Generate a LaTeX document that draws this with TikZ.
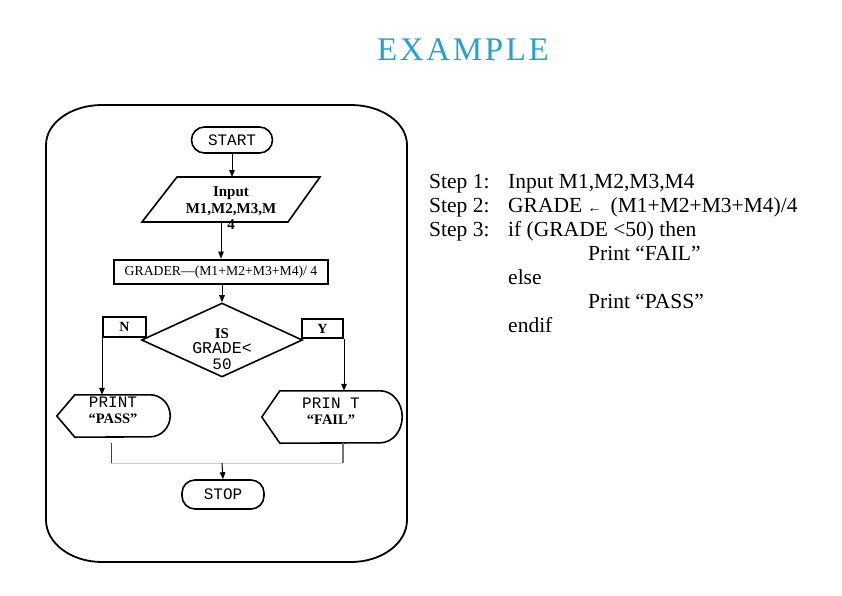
\documentclass[tikz,border=0pt]{standalone}
\usepackage{fontspec}
\setmainfont{Liberation Serif}
\newfontfamily\monof{Liberation Mono}
\newfontfamily\titlef[LetterSpace=8]{Liberation Serif}
\usetikzlibrary{shapes.geometric,arrows.meta}
\definecolor{titleblue}{RGB}{38,160,205}
\begin{document}
\begin{tikzpicture}[x=1pt,y=-1pt,
  shapeline/.style={draw=black, line width=1.6pt},
  arr/.style={line width=1pt, -{Triangle[length=7pt,width=5.5pt]}},
  pill/.style={shapeline, rounded corners=13pt, font=\fontsize{16}{16}\selectfont\monof, inner sep=0pt},
  flagbox/.style={draw=black, line width=2pt, inner sep=0pt, font=\fontsize{14}{14}\selectfont\bfseries},
  plain/.style={inner sep=0pt, align=center}
]
\useasboundingbox (0,0) rectangle (842,595);
% title
\node[font=\fontsize{33}{33}\selectfont\titlef, text=titleblue] (title) at (463,50) {EXAMPLE};
% frame
\draw[line width=1.8pt] (102,105) -- (351,105)
  arc[start angle=90,end angle=0,x radius=56pt,y radius=40pt] -- (407,520)
  arc[start angle=0,end angle=-90,x radius=56pt,y radius=42pt] -- (102,562)
  arc[start angle=-90,end angle=-180,x radius=56pt,y radius=42pt] -- (46,145)
  arc[start angle=180,end angle=90,x radius=56pt,y radius=40pt] -- cycle;
% nodes
\node[pill, minimum width=81pt, minimum height=26pt] (start) at (232,140) {START};
\node[minimum width=178pt, minimum height=45pt, inner sep=0pt, outer sep=0pt] (inp) at (231,199.5) {};
\draw[shapeline] ([xshift=35pt]inp.north west) -- (inp.north east) -- ([xshift=-32pt]inp.south east)
  -- (inp.south west) -- cycle;
\node[plain, font=\fontsize{15}{16.5}\selectfont\bfseries] (inptext) at (231,208.5) {Input\\M1,M2,M3,M\\4};
\node[draw=black, line width=2.8pt, minimum width=214pt, minimum height=24pt, inner sep=0pt,
  font=\fontsize{13.7}{14}\selectfont] (grade) at (221,272) {GRADER—(M1+M2+M3+M4)/ 4};
\node[diamond, shapeline, minimum width=161pt, minimum height=74pt, inner sep=0pt] (dec) at (222,340) {};
\node[plain, font=\fontsize{15}{15.5}\selectfont] (dectext) at (222,349) {{\bfseries IS}\\{\fontsize{16.5}{15.5}\selectfont\monof GRADE<}\\{\fontsize{16}{15.5}\selectfont\monof 50}};
\node[flagbox, minimum width=43pt, minimum height=20pt] (nb) at (124.5,327) {N};
\node[flagbox, minimum width=41pt, minimum height=19pt] (yb) at (322.5,328.5) {Y};
% PASS display
\node[minimum width=113pt, minimum height=42pt, inner sep=0pt] (pass) at (113.5,416) {};
\draw[shapeline] (pass.west) -- ([xshift=18pt]pass.north west) -- ([xshift=-20pt]pass.north east)
  arc[start angle=90,end angle=-90,x radius=20pt,y radius=21pt] -- ([xshift=18pt]pass.south west) -- cycle;
\node[plain, font=\fontsize{14.5}{16}\selectfont] (passtext) at (113,410) {{\fontsize{16}{16}\selectfont\monof PRINT}\\{\bfseries “PASS”}};
% FAIL display
\node[minimum width=140pt, minimum height=52pt, inner sep=0pt] (fail) at (332,417) {};
\draw[shapeline] (fail.west) -- ([xshift=18pt]fail.north west) -- ([xshift=-22pt]fail.north east)
  arc[start angle=90,end angle=-90,x radius=22pt,y radius=26pt] -- ([xshift=18pt]fail.south west) -- cycle;
\node[plain, font=\fontsize{14.5}{16}\selectfont] (failtext) at (331,411) {{\fontsize{16}{16}\selectfont\monof PRIN T}\\{\bfseries “FAIL”}};
\node[pill, minimum width=82pt, minimum height=29pt] (stop) at (223,494.5) {STOP};
% connectors
\draw[arr] (start.south) -- (start.south |- inp.north);
\draw[arr] (inp.south -| grade.north) -- (grade.north);
\draw[arr] (grade.south -| dec.north) -- (dec.north);
\draw[arr] (nb.south west) -- (nb.south west |- pass.north);
\draw[arr] (yb.south east) -- (yb.south east |- fail.north);
\coordinate (merge) at (222,463);
\coordinate (passout) at ([xshift=-2.5pt,yshift=-6pt]pass.south);
\coordinate (failout) at ([xshift=11pt]fail.south);
\draw[black!75, line width=0.8pt] (passout) -- (passout |- merge);
\draw[black!55, line width=1.6pt] (failout) -- (failout |- merge);
\draw[black!20, line width=1pt] (passout |- merge) -- (failout |- merge);
\draw[arr] (merge) -- (stop.north);
% pseudo code
\node[anchor=north west, inner sep=0pt, font=\fontsize{21.5}{24}\selectfont] (code) at (429,171) {%
\begin{tabular}{@{}p{79pt}@{}l@{}}
Step 1: & Input M1,M2,M3,M4\\
Step 2: & GRADE {\fontsize{14}{14}\selectfont ←}\hspace{9pt}(M1+M2+M3+M4)/4\\
Step 3: & if (GRADE <50) then\\
 & \hspace{80pt}Print “FAIL”\\
 & else\\
 & \hspace{80pt}Print “PASS”\\
 & endif
\end{tabular}};
\end{tikzpicture}
\end{document}
